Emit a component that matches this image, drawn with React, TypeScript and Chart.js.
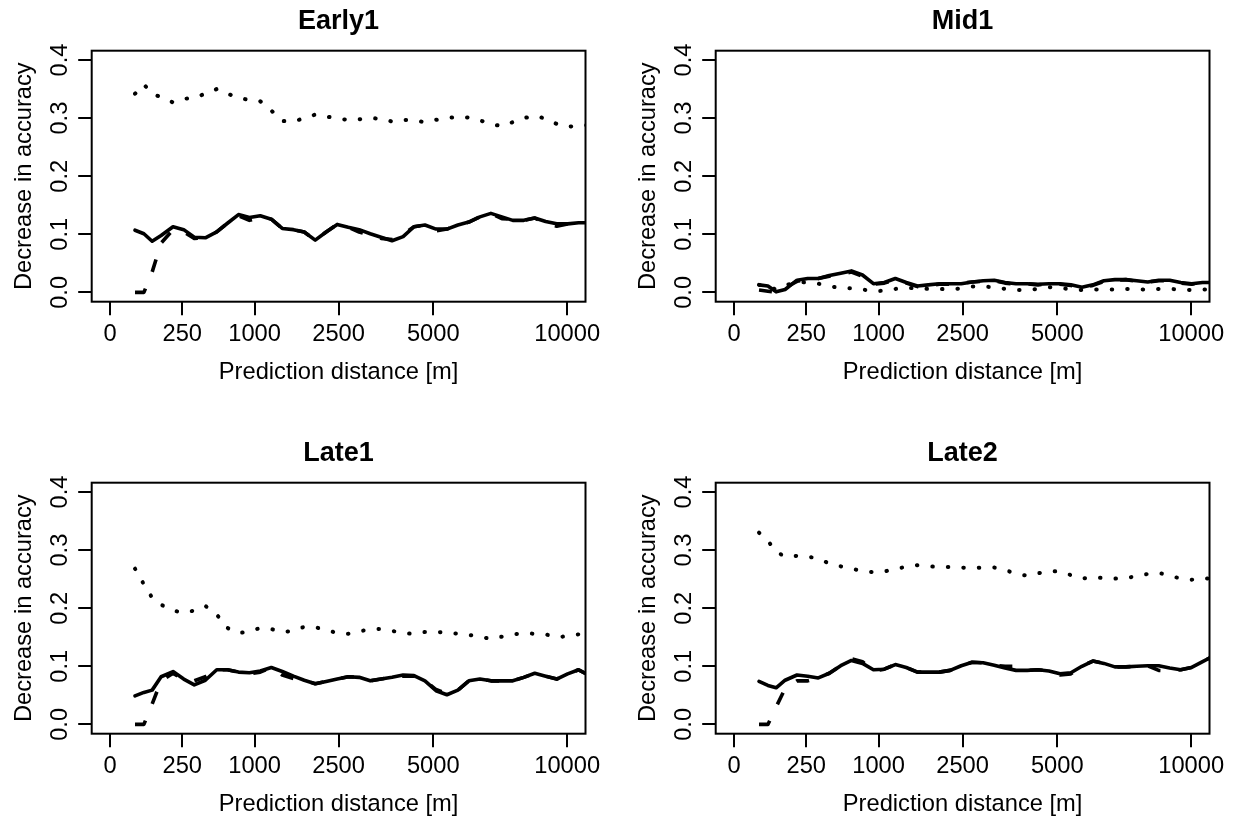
import { useEffect, useRef } from 'react';
import { Chart, registerables } from 'chart.js';

Chart.register(...registerables);

// Prediction distances (m) of the plotted points; x axis is square-root scaled
const distancesM = [30, 55, 85, 125, 190, 260, 340, 435, 545, 660, 790, 930, 1080, 1245, 1420, 1610, 1805, 2015, 2235, 2470, 2715, 2970, 3240, 3515, 3805, 4110, 4420, 4745, 5085, 5430, 5790, 6160, 6545, 6940, 7345, 7760, 8190, 8630, 9080, 9545, 10020, 10505, 11005];

const xTickDistances = [0, 250, 1000, 2500, 5000, 10000];
const yTickValues = [0, 0.1, 0.2, 0.3, 0.4];

const xAxisTitle = 'Prediction distance [m]';
const yAxisTitle = 'Decrease in accuracy';

const early1Solid = [.107, .101, .088, .098, .113, .108, .095, .094, .104, .119, .134, .129, .132, .126, .110, .108, .104, .090, .104, .117, .112, .108, .101, .095, .089, .096, .113, .116, .109, .109, .116, .121, .130, .136, .130, .124, .124, .128, .122, .118, .118, .120, .120];
const early1Dashed = [0, 0, .035, .085, .108, .104, .093, .094, .104, .119, .132, .124, .128, .126, .110, .108, .104, .090, .104, .117, .112, .104, .098, .093, .091, .100, .113, .116, .106, .109, .116, .121, .130, .136, .127, .126, .124, .128, .118, .114, .118, .116, .116];
const early1Dotted = [.342, .358, .342, .336, .327, .333, .335, .342, .350, .342, .335, .331, .329, .313, .295, .294, .300, .306, .303, .299, .297, .298, .300, .299, .294, .297, .296, .293, .297, .300, .302, .301, .296, .290, .286, .293, .300, .304, .299, .290, .285, .287, .288];

const mid1Solid = [.013, .011, .001, .005, .021, .024, .024, .029, .033, .037, .030, .015, .017, .024, .017, .011, .013, .015, .015, .015, .018, .020, .021, .017, .015, .015, .014, .015, .015, .013, .009, .013, .020, .022, .022, .020, .018, .021, .021, .017, .015, .017, .017];
const mid1Dashed = [.004, .002, 0, .008, .019, .023, .024, .028, .031, .035, .028, .014, .016, .022, .016, .010, .012, .014, .014, .016, .018, .019, .020, .016, .014, .015, .013, .015, .014, .012, .008, .012, .019, .021, .022, .019, .018, .020, .020, .016, .014, .017, .018];
const mid1Dotted = [.013, .010, .005, .012, .018, .017, .015, .011, .007, .007, .005, .002, .003, .006, .008, .007, .006, .006, .005, .007, .010, .010, .009, .006, .004, .004, .006, .009, .007, .006, .004, .005, .005, .005, .006, .006, .004, .006, .006, .005, .004, .005, .005];

const late1Solid = [.049, .055, .059, .082, .091, .078, .068, .076, .094, .094, .090, .089, .092, .098, .091, .083, .076, .070, .074, .078, .082, .081, .075, .078, .081, .085, .084, .075, .058, .051, .059, .075, .078, .075, .075, .075, .081, .088, .083, .078, .087, .094, .084];
const late1Dashed = [0, 0, .035, .075, .088, .077, .075, .082, .094, .094, .090, .087, .090, .098, .085, .079, .076, .070, .074, .078, .082, .081, .075, .078, .081, .083, .083, .075, .060, .053, .059, .075, .078, .075, .075, .075, .081, .088, .083, .078, .087, .094, .084];
const late1Dotted = [.268, .241, .218, .206, .196, .192, .196, .204, .189, .166, .157, .160, .166, .164, .159, .161, .168, .167, .163, .157, .156, .160, .164, .164, .161, .157, .156, .159, .159, .158, .156, .154, .151, .147, .151, .155, .157, .156, .155, .150, .152, .155, .155];

const late2Solid = [.074, .067, .063, .076, .085, .083, .080, .088, .101, .110, .105, .094, .095, .103, .098, .090, .090, .090, .093, .101, .107, .106, .102, .097, .093, .093, .094, .092, .087, .089, .100, .109, .105, .099, .099, .100, .101, .101, .097, .094, .098, .108, .118];
const late2Dashed = [0, 0, .030, .062, .075, .075, .080, .088, .101, .113, .108, .092, .095, .103, .098, .090, .090, .090, .093, .101, .107, .106, .102, .100, .100, .093, .094, .092, .085, .087, .100, .109, .105, .099, .099, .100, .101, .093, .092, .094, .098, .108, .118];
const late2Dotted = [.330, .316, .297, .289, .290, .289, .285, .277, .272, .268, .264, .262, .263, .268, .271, .274, .272, .271, .271, .270, .269, .270, .270, .266, .259, .256, .260, .264, .263, .257, .251, .253, .252, .251, .252, .255, .259, .261, .256, .251, .249, .252, .250];

const FONT = "'Liberation Sans', Arial, Helvetica, sans-serif";
const AXIS_FONT_SIZE = 23.7;

const framePlugin = {
  id: 'frameBox',
  afterDraw(chart: any) {
    const { ctx, chartArea: a } = chart;
    ctx.save();
    ctx.strokeStyle = '#000';
    ctx.lineWidth = 2;
    ctx.strokeRect(a.left, a.top, a.right - a.left, a.bottom - a.top);
    ctx.restore();
  },
};

type PanelProps = {
  title: string;
  solid: number[];
  dashed: number[];
  dotted: number[];
  left: number;
  top: number;
  width: number;
  height: number;
};

function Panel({ title, solid, dashed, dotted, left, top, width, height }: PanelProps) {
  const ref = useRef<HTMLCanvasElement | null>(null);

  useEffect(() => {
    if (!ref.current) return;
    const toPts = (vals: number[]) => vals.map((v, i) => ({ x: Math.sqrt(distancesM[i]), y: v }));
    const lineBase = {
      borderColor: '#000',
      backgroundColor: '#000',
      borderWidth: 3.6,
      pointRadius: 0,
      pointHoverRadius: 0,
      tension: 0,
      fill: false,
      borderJoinStyle: 'round' as const,
      clip: 0,
    };
    const tickFont = { family: FONT, size: AXIS_FONT_SIZE, lineHeight: 1 };
    const chart = new Chart(ref.current, {
      type: 'line',
      data: {
        datasets: [
          { ...lineBase, label: 'solid', data: toPts(solid), borderCapStyle: 'round', order: 3 },
          { ...lineBase, label: 'dashed', data: toPts(dashed), borderDash: [13, 18], borderCapStyle: 'butt', order: 2 },
          { ...lineBase, label: 'dotted', data: toPts(dotted), borderWidth: 4, borderDash: [0.5, 15], borderCapStyle: 'round', order: 1 },
        ],
      },
      options: {
        responsive: false,
        animation: false,
        devicePixelRatio: 1,
        events: [],
        layout: {
          autoPadding: false,
          padding: { left: 0, top: 0, right: width - 585.5, bottom: height - 301.7 - 85 },
        },
        plugins: {
          legend: { display: false },
          tooltip: { enabled: false },
          title: {
            display: true,
            text: title,
            fullSize: false,
            color: '#000',
            font: { family: FONT, size: 27, weight: 'bold', lineHeight: 1 },
            padding: { top: 8.5, bottom: 15.2 },
          },
        },
        scales: {
          x: {
            type: 'linear',
            min: -4,
            max: 104,
            afterFit(s: any) { s.height = 85; },
            afterBuildTicks(s: any) { s.ticks = xTickDistances.map((d) => ({ value: Math.sqrt(d) })); },
            ticks: {
              autoSkip: false,
              maxRotation: 0,
              minRotation: 0,
              padding: 6.95,
              color: '#000',
              font: tickFont,
              callback: (v: any) => String(Math.round(Number(v) * Number(v))),
            },
            grid: { display: true, drawOnChartArea: false, drawTicks: true, tickLength: 13.5, color: '#000', lineWidth: 2 },
            border: { display: false },
            title: { display: true, text: xAxisTitle, color: '#000', font: tickFont, padding: { top: 0, bottom: 2.85 } },
          },
          y: {
            type: 'linear',
            min: -0.016,
            max: 0.416,
            afterFit(s: any) { s.width = 91.7; },
            afterBuildTicks(s: any) { s.ticks = yTickValues.map((v) => ({ value: v })); },
            ticks: {
              minRotation: 90,
              maxRotation: 90,
              crossAlign: 'center',
              padding: 1.7,
              color: '#000',
              font: tickFont,
              callback: (v: any) => Number(v).toFixed(1),
            },
            grid: { display: true, drawOnChartArea: false, drawTicks: true, tickLength: 13.5, color: '#000', lineWidth: 2 },
            border: { display: false },
            title: { display: true, text: yAxisTitle, color: '#000', font: tickFont, padding: { top: 12.15, bottom: 0 } },
          },
        },
      } as any,
      plugins: [framePlugin],
    });
    return () => chart.destroy();
  }, [title, solid, dashed, dotted, width, height]);

  return (
    <canvas
      ref={ref}
      width={width}
      height={height}
      style={{ position: 'absolute', left, top, width, height, display: 'block' }}
    />
  );
}

const panels: PanelProps[] = [
  { title: 'Early1', solid: early1Solid, dashed: early1Dashed, dotted: early1Dotted, left: 0, top: 0, width: 624, height: 432 },
  { title: 'Mid1', solid: mid1Solid, dashed: mid1Dashed, dotted: mid1Dotted, left: 624, top: 0, width: 620, height: 432 },
  { title: 'Late1', solid: late1Solid, dashed: late1Dashed, dotted: late1Dotted, left: 0, top: 432, width: 624, height: 390 },
  { title: 'Late2', solid: late2Solid, dashed: late2Dashed, dotted: late2Dotted, left: 624, top: 432, width: 620, height: 390 },
];

export default function App() {
  return (
    <div style={{ position: 'absolute', left: 0, top: 0, width: 1244, height: 822, overflow: 'hidden', background: '#fff' }}>
      {panels.map((p) => (
        <Panel key={p.title} {...p} />
      ))}
    </div>
  );
}
